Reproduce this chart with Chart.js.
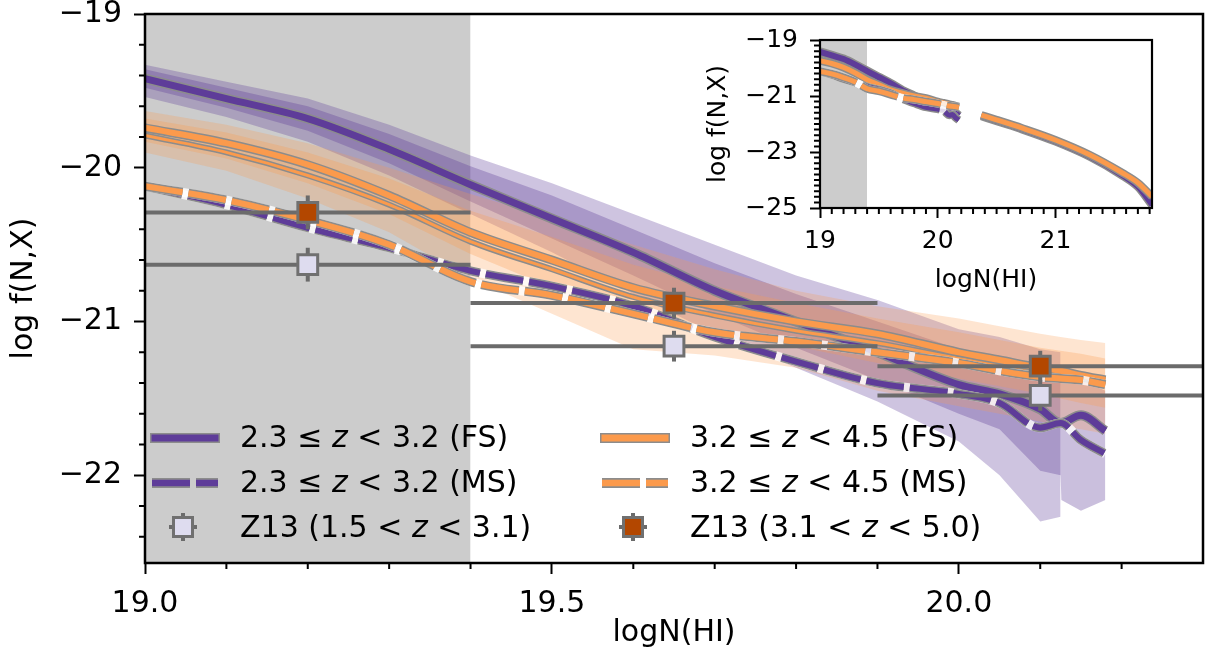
<!DOCTYPE html>
<html>
<head>
<meta charset="utf-8">
<script src="https://cdn.jsdelivr.net/npm/chart.js@4.4.1/dist/chart.umd.min.js"></script>
<style>
  body { margin: 0; background: #fff; }
  #wrap { position: relative; width: 1207px; height: 657px; font-family: 'DejaVu Sans', sans-serif; color: #000; }
  #main { position: absolute; left: 0; top: 0; }
  #inset { position: absolute; left: 690px; top: 20px; }
  .lt { position: absolute; font-size: 30px; line-height: 30px; white-space: nowrap; }
  .lh { position: absolute; }
</style>
</head>
<body>
<div id="wrap">
  <canvas id="main" width="1207" height="657"></canvas>
  <canvas id="inset" width="490" height="280"></canvas>
  <div id="legend"></div>
</div>
<script>
// ---- data ----
const X = [19.0, 19.1, 19.2, 19.3, 19.4, 19.5, 19.6, 19.7, 19.8, 19.9, 20.0, 20.05, 20.1, 20.125, 20.15, 20.18];
const purpleFS  = [-19.42, -19.55, -19.68, -19.88, -20.11, -20.33, -20.55, -20.80, -21.00, -21.20, -21.41, -21.47, -21.57, -21.66, -21.61, -21.71];
const purpleMS  = [-20.12, -20.24, -20.39, -20.52, -20.67, -20.77, -20.90, -21.10, -21.26, -21.40, -21.47, -21.53, -21.69, -21.66, -21.77, -21.86];
const orangeFS  = [-19.74, -19.84, -19.98, -20.18, -20.42, -20.60, -20.78, -20.90, -21.00, -21.08, -21.20, -21.25, -21.30, -21.32, -21.35, -21.38];
const orangeFS2 = [-19.79, -19.90, -20.05, -20.24, -20.48, -20.66, -20.84, -20.96, -21.06, -21.14, -21.24, -21.28, -21.32, -21.34, -21.37, -21.40];
const orangeMS  = [-20.12, -20.21, -20.34, -20.50, -20.74, -20.83, -20.95, -21.07, -21.13, -21.20, -21.27, -21.32, -21.36, -21.37, -21.38, -21.41];

const purpleOuterX  = [19.0, 19.1, 19.2, 19.3, 19.4, 19.5, 19.6, 19.7, 19.8, 19.9, 20.0, 20.05, 20.1, 20.125];
const purpleOuterHi = [-19.33, -19.44, -19.55, -19.72, -19.92, -20.10, -20.30, -20.50, -20.70, -20.86, -21.05, -21.10, -21.18, -21.20];
const purpleOuterLo = [-19.54, -19.67, -19.83, -20.05, -20.30, -20.55, -20.82, -21.08, -21.30, -21.52, -21.78, -22.00, -22.30, -22.27];
const purpleInnerX  = [19.0, 19.1, 19.2, 19.3, 19.4, 19.5, 19.6, 19.7, 19.8, 19.9, 20.0, 20.05, 20.1, 20.125, 20.126, 20.15, 20.18];
const purpleInnerHi = [-19.36, -19.48, -19.60, -19.78, -19.99, -20.18, -20.40, -20.62, -20.82, -21.00, -21.18, -21.24, -21.32, -21.36, -21.36, -21.38, -21.45];
const purpleInnerLo = [-19.48, -19.61, -19.76, -19.97, -20.22, -20.46, -20.70, -20.95, -21.17, -21.38, -21.60, -21.70, -21.97, -22.00, -22.16, -22.23, -22.16];

const orangeOuterHi = [-19.63, -19.72, -19.84, -20.00, -20.17, -20.33, -20.50, -20.66, -20.80, -20.90, -20.98, -21.03, -21.08, -21.10, -21.12, -21.14];
const orangeOuterLo = [-19.90, -20.02, -20.20, -20.42, -20.72, -20.95, -21.18, -21.22, -21.30, -21.45, -21.55, -21.60, -21.65, -21.68, -21.70, -21.73];
const orangeInnerHi = [-19.68, -19.77, -19.90, -20.07, -20.28, -20.45, -20.63, -20.77, -20.88, -20.98, -21.07, -21.12, -21.17, -21.19, -21.21, -21.24];
const orangeInnerLo = [-19.83, -19.94, -20.10, -20.30, -20.56, -20.78, -20.98, -21.07, -21.16, -21.27, -21.37, -21.42, -21.47, -21.50, -21.53, -21.56];

const z13X     = [19.2, 19.65, 20.1];
const z13XLo   = [19.0, 19.4, 19.9];
const z13XHi   = [19.4, 19.9, 20.3];
const z13Low   = [-20.63, -21.16, -21.48];   // 1.5 < z < 3.1
const z13High  = [-20.29, -20.88, -21.29];   // 3.1 < z < 5.0
const z13YErr  = [0.11, 0.10, 0.10];

const shadeX = [19.0, 19.4];
const xTicks = [19.0, 19.5, 20.0];
const yTicks = [-22, -21, -20, -19];

// inset, high column density part
const highX      = [20.37, 20.5, 20.72, 21.0, 21.29, 21.57, 21.7, 21.82];
const highOrange = [-21.68, -21.85, -22.15, -22.57, -23.10, -23.75, -24.10, -24.59];
const highPurple = [-21.72, -21.90, -22.20, -22.63, -23.17, -23.85, -24.25, -24.90];
const insetXTicks = [19, 20, 21];
const insetYTicks = [-25, -23, -21, -19];

// ---- styling ----
const PURPLE = '#5e3c99', ORANGE = '#fb9a4c', EDGE = '#8c8c8c', BAR = '#6b6b6b';
const FONT = 'DejaVu Sans';
const DASH = [38, 6];

function range(a, b, s) { const r = []; for (let v = a; v <= b + 1e-9; v += s) r.push(Math.round(v * 100) / 100); return r; }
function pts(xs, ys) { return xs.map((x, i) => ({x, y: ys[i]})); }

function makeLayers() {
  const L = [];
  const add = d => { L.push(d); return L.length - 1; };
  return {
    L, add,
    band(xs, lo, hi, color) {
      const i = add({data: pts(xs, lo), borderWidth: 0, fill: false});
      add({data: pts(xs, hi), borderWidth: 0, backgroundColor: color, fill: {target: i}});
    },
    line(xs, ys, color, w, dash) {
      const data = pts(xs, ys);
      if (dash) add({data, borderColor: 'rgba(255,255,255,0.8)', borderWidth: w + 3, cubicInterpolationMode: 'monotone'});
      add({data, borderColor: EDGE, borderWidth: w + 3, borderDash: dash || [], cubicInterpolationMode: 'monotone'});
      add({data, borderColor: color, borderWidth: w, borderDash: dash || [], cubicInterpolationMode: 'monotone'});
    },
    build() {
      return L.map((d, i) => Object.assign({type: 'line', pointRadius: 0, tension: 0, clip: 0, fill: false, order: L.length - i}, d));
    }
  };
}

const axisDecor = {
  id: 'axisDecor',
  beforeDraw(chart, args, o) {
    if (!o.white) return;
    const a = chart.chartArea, c = chart.ctx;
    c.save(); c.fillStyle = '#fff'; c.fillRect(a.left, a.top, a.right - a.left, a.bottom - a.top); c.restore();
  },
  afterDraw(chart, args, o) {
    const {ctx: c, chartArea: a, scales: {x, y}} = chart;
    c.save();
    c.strokeStyle = '#000';
    c.lineWidth = o.tickWidth;
    c.beginPath();
    o.xMinor.forEach(v => { const p = x.getPixelForValue(v); c.moveTo(p, a.bottom); c.lineTo(p, a.bottom + o.minorLen); });
    o.yMinor.forEach(v => { const p = y.getPixelForValue(v); c.moveTo(a.left, p); c.lineTo(a.left - o.minorLen, p); });
    c.stroke();
    c.lineWidth = o.frame;
    c.strokeRect(a.left, a.top, a.right - a.left, a.bottom - a.top);
    c.restore();
  }
};

function noPad(s) { s.paddingTop = 0; s.paddingBottom = 0; s.paddingLeft = 0; s.paddingRight = 0; }

function axes(cfg) {
  const tickFont = {family: FONT, size: cfg.size};
  return {
    x: {
      type: 'linear', min: cfg.xmin, max: cfg.xmax,
      afterBuildTicks: s => { s.ticks = cfg.xTicks.map(v => ({value: v})); },
      afterFit: s => { s.height = cfg.xh; noPad(s); },
      grid: {drawOnChartArea: false, tickLength: cfg.tl, tickWidth: 2, tickColor: '#000'},
      border: {display: false},
      ticks: {font: tickFont, color: '#000', padding: cfg.xpad, maxRotation: 0, autoSkip: false, callback: cfg.xfmt},
      title: {display: true, text: 'logN(HI)', font: tickFont, color: '#000', padding: {top: 0, bottom: cfg.xtp}}
    },
    y: {
      type: 'linear', min: cfg.ymin, max: cfg.ymax,
      afterBuildTicks: s => { s.ticks = cfg.yTicks.map(v => ({value: v})); },
      afterFit: s => { s.width = cfg.yw; noPad(s); },
      grid: {drawOnChartArea: false, tickLength: cfg.tl, tickWidth: 2, tickColor: '#000'},
      border: {display: false},
      ticks: {font: tickFont, color: '#000', padding: cfg.ypad, callback: v => '\u2212' + Math.abs(v)},
      title: {display: true, text: 'log f(N,X)', font: tickFont, color: '#000', padding: {top: cfg.ytp, bottom: 0}}
    }
  };
}

// ---- main chart ----
const m = makeLayers();
m.add({data: pts(shadeX, [-19, -19]), borderWidth: 0, backgroundColor: '#cccccc', fill: 'start'});
m.band(purpleOuterX, purpleOuterLo, purpleOuterHi, 'rgba(94,60,153,0.30)');
m.band(purpleInnerX, purpleInnerLo, purpleInnerHi, 'rgba(94,60,153,0.33)');
m.band(X, orangeOuterLo, orangeOuterHi, 'rgba(251,154,76,0.26)');
m.band(X, orangeInnerLo, orangeInnerHi, 'rgba(251,154,76,0.28)');
m.line(X, purpleFS, PURPLE, 7);
m.line(X, orangeFS2, ORANGE, 3);
m.line(X, orangeFS, ORANGE, 6);
m.line(X, purpleMS, PURPLE, 6, DASH);
m.line(X, orangeMS, ORANGE, 6, DASH);
z13X.forEach((x, i) => {
  [z13Low[i], z13High[i]].forEach(y => {
    m.add({data: [{x: z13XLo[i], y}, {x: z13XHi[i], y}], borderColor: BAR, borderWidth: 4});
    m.add({data: [{x, y: y - z13YErr[i]}, {x, y: y + z13YErr[i]}], borderColor: BAR, borderWidth: 4});
  });
});
m.add({data: pts(z13X, z13Low), showLine: false, pointStyle: 'rect', pointRadius: 14, pointBorderWidth: 3, pointBorderColor: '#707070', pointBackgroundColor: '#dedcef', clip: false});
m.add({data: pts(z13X, z13High), showLine: false, pointStyle: 'rect', pointRadius: 14, pointBorderWidth: 3, pointBorderColor: '#707070', pointBackgroundColor: '#b34700', clip: false});

new Chart(document.getElementById('main'), {
  type: 'line',
  data: {datasets: m.build()},
  plugins: [axisDecor],
  options: {
    responsive: false, animation: false, events: [],
    layout: {autoPadding: false, padding: {top: 14, right: 4, left: 0, bottom: 0}},
    plugins: {
      legend: {display: false}, tooltip: {enabled: false},
      axisDecor: {xMinor: range(19.1, 20.2, 0.1).filter(v => !xTicks.includes(v)),
                  yMinor: range(-22.4, -19.2, 0.2).filter(v => !yTicks.includes(v)),
                  minorLen: 6, tickWidth: 2, frame: 2.5}
    },
    scales: axes({xmin: 19, xmax: 20.3, ymin: -22.57, ymax: -19, xTicks, yTicks, size: 30, tl: 11,
                  xh: 94, yw: 145, xpad: 12, ypad: 12, xtp: 6, ytp: 6, xfmt: v => v.toFixed(1)})
  }
});

// ---- inset ----
const n = makeLayers();
n.add({data: pts(shadeX, [-19, -19]), borderWidth: 0, backgroundColor: '#cccccc', fill: 'start'});
n.line(X, purpleFS, PURPLE, 6);
n.line(X, orangeFS, ORANGE, 5);
n.line(X, purpleMS, PURPLE, 5, DASH);
n.line(X, orangeMS, ORANGE, 5, DASH);
n.line(highX, highPurple, PURPLE, 5);
n.line(highX, highOrange, ORANGE, 5);

new Chart(document.getElementById('inset'), {
  type: 'line',
  data: {datasets: n.build()},
  plugins: [axisDecor],
  options: {
    responsive: false, animation: false, events: [],
    layout: {autoPadding: false, padding: {top: 20, right: 28, left: 0, bottom: 0}},
    plugins: {
      legend: {display: false}, tooltip: {enabled: false},
      axisDecor: {white: true,
                  xMinor: range(19.1, 21.8, 0.1).filter(v => !insetXTicks.includes(v)),
                  yMinor: range(-24.8, -19.2, 0.2).filter(v => !insetYTicks.includes(v)),
                  minorLen: 6, tickWidth: 2, frame: 2.2}
    },
    scales: axes({xmin: 19, xmax: 21.82, ymin: -25, ymax: -19, xTicks: insetXTicks, yTicks: insetYTicks, size: 25, tl: 10,
                  xh: 92, yw: 130, xpad: 8, ypad: 12, xtp: 5, ytp: 13, xfmt: v => String(v)})
  }
});

// ---- legend (html) ----
const legendRows = [437, 482, 527];
const legendItems = [
  {col: 0, row: 0, kind: 'solid', color: PURPLE, text: '2.3 \u2264 <i>z</i> < 3.2 (FS)'},
  {col: 0, row: 1, kind: 'dash',  color: PURPLE, text: '2.3 \u2264 <i>z</i> < 3.2 (MS)'},
  {col: 0, row: 2, kind: 'mark',  color: '#dedcef', text: 'Z13 (1.5 < <i>z</i> < 3.1)'},
  {col: 1, row: 0, kind: 'solid', color: ORANGE, text: '3.2 \u2264 <i>z</i> < 4.5 (FS)'},
  {col: 1, row: 1, kind: 'dash',  color: ORANGE, text: '3.2 \u2264 <i>z</i> < 4.5 (MS)'},
  {col: 1, row: 2, kind: 'mark',  color: '#b34700', text: 'Z13 (3.1 < <i>z</i> < 5.0)'}
];
const legendCols = [150, 600];
const leg = document.getElementById('legend');
legendItems.forEach(it => {
  const x0 = legendCols[it.col], yc = legendRows[it.row];
  let svg;
  if (it.kind === 'solid') {
    svg = `<svg width="72" height="14"><line x1="1" y1="7" x2="71" y2="7" stroke="${EDGE}" stroke-width="10"/><line x1="2.5" y1="7" x2="69.5" y2="7" stroke="${it.color}" stroke-width="7"/></svg>`;
  } else if (it.kind === 'dash') {
    svg = `<svg width="72" height="14"><line x1="3" y1="7" x2="69" y2="7" stroke="${EDGE}" stroke-width="10" stroke-dasharray="38 6"/><line x1="3" y1="7" x2="69" y2="7" stroke="${it.color}" stroke-width="6.5" stroke-dasharray="38 6"/></svg>`;
  } else {
    svg = `<svg width="72" height="36"><line x1="20" y1="18" x2="48" y2="18" stroke="${BAR}" stroke-width="4"/><line x1="34" y1="4" x2="34" y2="32" stroke="${BAR}" stroke-width="4"/><rect x="24.5" y="8.5" width="19" height="19" fill="${it.color}" stroke="#707070" stroke-width="3"/></svg>`;
  }
  const h = document.createElement('div');
  h.className = 'lh';
  h.style.left = (x0 - 1) + 'px';
  h.style.top = (yc - (it.kind === 'mark' ? 18 : 7)) + 'px';
  h.innerHTML = svg;
  leg.appendChild(h);
  const t = document.createElement('div');
  t.className = 'lt';
  t.style.left = (x0 + 90) + 'px';
  t.style.top = (yc - 15) + 'px';
  t.innerHTML = it.text;
  leg.appendChild(t);
});
</script>
</body>
</html>
